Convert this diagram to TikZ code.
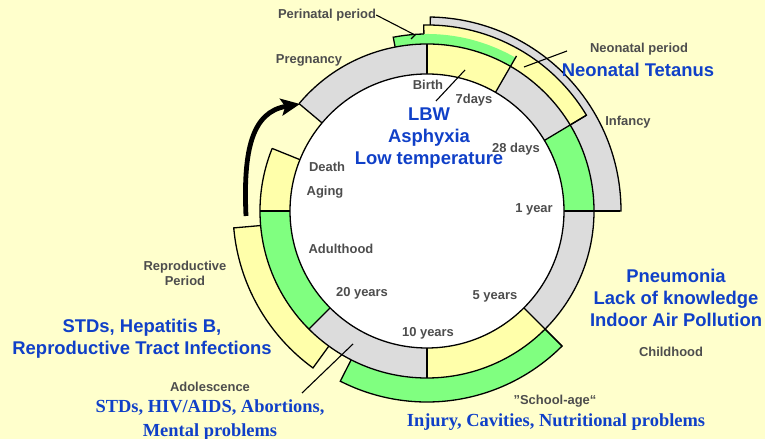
\documentclass[tikz,border=0pt]{standalone}
\usepackage{fontspec}
\setmainfont{Liberation Sans}
\newfontfamily\serifbf{Liberation Serif}
\usetikzlibrary{calc,arrows.meta}
\definecolor{bg}{HTML}{FFFFCC}
\definecolor{ringgray}{HTML}{DCDCDC}
\definecolor{ryellow}{HTML}{FFFFAA}
\definecolor{rgreen}{HTML}{80FF80}
\definecolor{lblgray}{HTML}{4D4D4D}
\definecolor{lblblue}{HTML}{1040C8}
\newcommand\annsector[4]{($(C)+(#1:#3bp)$) arc[start angle=#1,end angle=#2,radius=#3bp] -- ($(C)+(#2:#4bp)$) arc[start angle=#2,end angle=#1,radius=#4bp] -- cycle}
\begin{document}
\begin{tikzpicture}[x=1bp,y=1bp,
  outl/.style={draw=black,line width=1.3bp},
  leader/.style={draw=black,line width=1.1bp},
  graylbl/.style={font={\fontsize{13}{15}\selectfont\bfseries},text=lblgray,inner sep=0pt,align=center},
  bluelbl/.style={font={\fontsize{18.5}{22.5}\selectfont\bfseries},text=lblblue,inner sep=0pt,align=center},
  serlbl/.style={font={\fontsize{18.5}{24}\selectfont\serifbf\bfseries},text=lblblue,inner sep=0pt,align=center}]
\useasboundingbox (0,0) rectangle (765,439);
\fill[bg] (0,0) rectangle (765,439);
\coordinate (C) at (427,228);
% outer bands
\filldraw[fill=ringgray,outl] \annsector{89}{0}{166}{194};
\filldraw[fill=ryellow,outl] \annsector{91}{31}{166}{186};
\fill[rgreen] \annsector{101}{60}{166}{177};
\draw[outl] ($(C)+(101:166bp)$) -- ($(C)+(101:177bp)$) arc[start angle=101,end angle=91,radius=177bp];
\filldraw[fill=rgreen,outl] \annsector{-45}{-117}{166}{191};
\filldraw[fill=ryellow,outl] \annsector{-126}{-175}{166}{194};
% main ring
\fill[ringgray] \annsector{140}{90}{137}{167};
\fill[ryellow] \annsector{90}{60}{137}{167};
\fill[ringgray] \annsector{60}{31}{137}{167};
\fill[rgreen] \annsector{31}{0}{137}{167};
\fill[ringgray] \annsector{0}{-45}{137}{167};
\fill[ryellow] \annsector{-45}{-90}{137}{167};
\fill[ringgray] \annsector{-90}{-135}{137}{167};
\fill[rgreen] \annsector{-135}{-180}{137}{167};
\fill[ryellow] \annsector{180}{158}{137}{167};
\draw[outl] ($(C)+(140:167bp)$) arc[start angle=140,end angle=-202,radius=167bp];
\foreach \a/\ro in {140/167,90/167,60/179,31/186,0/193,-45/191,-90/167,-135/167,180/167,158/167}
  \draw[outl] ($(C)+(\a:137bp)$) -- ($(C)+(\a:\ro bp)$);
\filldraw[fill=white,outl] (C) circle[radius=137bp];
% arrow
\coordinate (arrS) at (246,223);
\coordinate (arrE) at (300,335);
\draw[line width=4.8bp,-{Stealth[length=19bp,width=17bp,inset=4bp]}] (arrS) .. controls (243,289) and (252,327) .. (arrE);
% gray labels
\node[graylbl] (peri) at (327,424) {Perinatal period};
\node[graylbl] (preg) at (309,379) {Pregnancy};
\node[graylbl] (birth) at (428,354) {Birth};
\node[graylbl] (d7) at (474,339) {7days};
\node[graylbl] (d28) at (516,290) {28 days};
\node[graylbl] (y1) at (534,230) {1 year};
\node[graylbl] (neop) at (639,390) {Neonatal period};
\node[graylbl] (inf) at (628,317) {Infancy};
\node[graylbl] (death) at (327,272) {Death};
\node[graylbl] (aging) at (325,247) {Aging};
\node[graylbl] (adult) at (341,190) {Adulthood};
\node[graylbl] (y20) at (362,146) {20 years};
\node[graylbl] (y5) at (495,143) {5 years};
\node[graylbl] (y10) at (428,106) {10 years};
\node[graylbl] (child) at (671,87) {Childhood};
\node[graylbl] (repro) at (185,166) {Reproductive\\Period};
\node[graylbl] (adol) at (210,52) {Adolescence};
\node[graylbl] (school) at (555,38) {\char34 School-age“};
% blue labels
\node[bluelbl] (tet) at (638,369) {Neonatal Tetanus};
\node[bluelbl] (lbw) at (429,301) {LBW\\Asphyxia\\Low temperature};
\node[bluelbl] (pneu) at (676,141) {Pneumonia\\Lack of knowledge\\Indoor Air Pollution};
\node[bluelbl] (std) at (142,100) {STDs, Hepatitis B,\\Reproductive Tract Infections};
\node[serlbl] (adoldis) at (210,19) {STDs, HIV/AIDS, Abortions,\\Mental problems};
\node[serlbl] (inj) at (556,17) {Injury, Cavities, Nutritional problems};
% leaders
\coordinate (periE) at (415,404);
\coordinate (periT) at (411,400);
\draw[leader] (peri.east) -- (periE) -- (periT);
\coordinate (neoA) at (567,388);
\coordinate (neoB) at (524,372);
\draw[leader] (neoA) -- (neoB);
\coordinate (lbwA) at (436,338);
\coordinate (lbwB) at (465,369);
\draw[leader] (lbwA) -- (lbwB);
\coordinate (adolA) at (302,46);
\coordinate (adolB) at (353,95);
\draw[leader] (adolA) -- (adolB);
\end{tikzpicture}
\end{document}
